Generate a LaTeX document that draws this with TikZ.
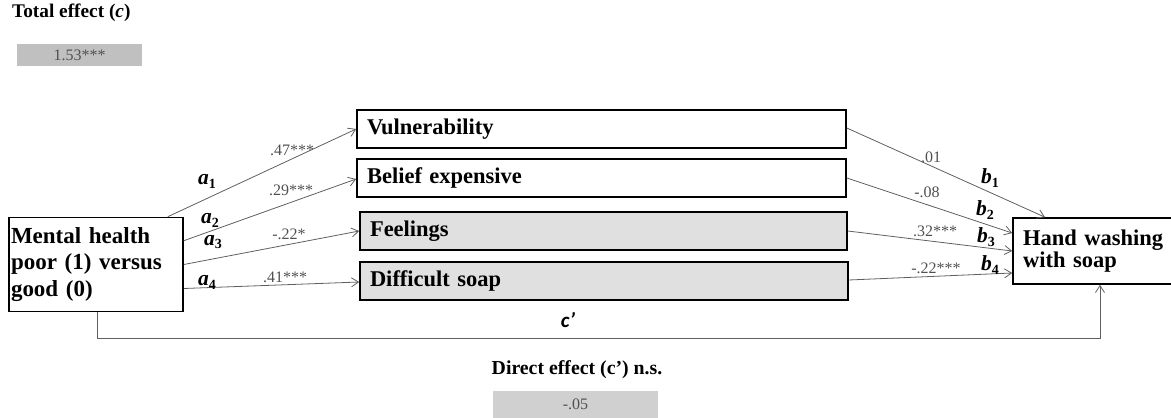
\documentclass[tikz,border=0pt]{standalone}
\usepackage{fontspec}
\setmainfont{Liberation Serif}
\newfontfamily\carl{Carlito}
\usetikzlibrary{arrows.meta,calc}
\definecolor{linegray}{RGB}{95,95,95}
\definecolor{coefgray}{RGB}{80,80,80}
\definecolor{medfill}{RGB}{224,224,224}
\definecolor{totfill}{RGB}{192,192,192}
\definecolor{dirfill}{RGB}{208,208,208}
\tikzset{
  varbox/.style={draw=black, line width=1.6pt, inner sep=0pt, font=\fontsize{22.5}{26}\selectfont\bfseries},
  medbox/.style={varbox, minimum height=38pt, text width=469pt, inner xsep=10pt, align=left},
  arr/.style={draw=linegray, line width=0.8pt, -{Straight Barb[length=7pt,width=9pt]}},
  coef/.style={text=coefgray, font=\fontsize{16}{18}\selectfont, inner sep=0pt},
  plab/.style={font=\fontsize{21.5}{21.5}\selectfont\bfseries\itshape, inner sep=0pt},
  effbox/.style={inner sep=0pt, text=coefgray, font=\fontsize{16}{18}\selectfont}
}
\newcommand{\plabel}[2]{#1\raisebox{-0.4ex}{\fontsize{14}{14}\selectfont\upshape\bfseries #2}}
\begin{document}
\begin{tikzpicture}[x=1pt,y=-1pt]
\useasboundingbox (0,0) rectangle (1171,418);
% total effect
\node[anchor=west, inner sep=0pt, font=\fontsize{19.3}{21}\selectfont\bfseries] (tot) at (12,13) {Total effect (\textit{c})};
\node[effbox, fill=totfill, minimum width=125pt, minimum height=22pt] (totv) at (79.5,55) {1.53***};
% boxes
\node[varbox, minimum width=174pt, minimum height=94pt, text width=170pt, inner xsep=2pt, align=left, font=\fontsize{23}{26.5}\selectfont\bfseries] (m) at (96,264.5) {Mental health\\poor (1) versus\\good (0)};
\node[varbox, minimum width=153pt, minimum height=66pt, text width=141pt, inner xsep=10pt, align=left, font=\fontsize{22.5}{22.5}\selectfont\bfseries] (h) at (1093.5,251) {Hand washing\\with soap};
\node[medbox] (v) at (601.5,129) {Vulnerability};
\node[medbox] (b) at (601.5,178) {Belief expensive};
\node[medbox, fill=medfill, text width=467pt] (f) at (603.5,231) {Feelings};
\node[medbox, fill=medfill, text width=468pt] (d) at (604,281) {Difficult soap};
% a paths
\draw[arr] ([xshift=-16pt]m.north east) -- (v.west);
\draw[arr] ([yshift=-24pt]m.north east) -- ([yshift=-1pt]b.west);
\draw[arr] (m.east) -- (f.west);
\draw[arr] ([yshift=-24pt]m.east) -- ([yshift=-1pt]d.west);
% b paths
\draw[arr] ([yshift=1pt]v.east) -- ([xshift=-48.5pt]h.north);
\draw[arr] (b.east) -- ([yshift=18pt]h.west);
\draw[arr] (f.east) -- (h.west);
\draw[arr] ([yshift=1pt]d.east) -- ([yshift=-22pt]h.west);
% c' path
\draw[arr] ([xshift=1pt]m.south) -- ++(0,26) -| ([xshift=6.5pt]h.south);
% a labels
\node[plab] (la1) at (207,181) {\plabel{a}{1}};
\node[plab] (la2) at (210,220) {\plabel{a}{2}};
\node[plab] (la3) at (213,242) {\plabel{a}{3}};
\node[plab] (la4) at (207,282) {\plabel{a}{4}};
% a coefs
\node[coef] (ca1) at (292,150) {.47***};
\node[coef] (ca2) at (291,190) {.29***};
\node[coef] (ca3) at (289,234) {-.22*};
\node[coef] (ca4) at (285,277) {.41***};
% b labels
\node[plab] (lb1) at (990,178) {\plabel{b}{1}};
\node[plab] (lb2) at (985,210) {\plabel{b}{2}};
\node[plab] (lb3) at (986,237) {\plabel{b}{3}};
\node[plab] (lb4) at (990,265) {\plabel{b}{4}};
% b coefs
\node[coef] (cb1) at (931,157) {.01};
\node[coef] (cb2) at (927,192) {-.08};
\node[coef] (cb3) at (935,231) {.32***};
\node[coef] (cb4) at (936,268) {-.22***};
% c'
\node[inner sep=0pt, font=\fontsize{21}{21}\selectfont\carl\bfseries\itshape] (lc) at (568,320) {c’};
% direct effect
\node[inner sep=0pt, font=\fontsize{19.8}{21}\selectfont\bfseries] (dir) at (577,370) {Direct effect (c’) n.s.};
\node[effbox, fill=dirfill, minimum width=165pt, minimum height=27pt] (dirv) at (575.5,404.5) {-.05};
\end{tikzpicture}
\end{document}
